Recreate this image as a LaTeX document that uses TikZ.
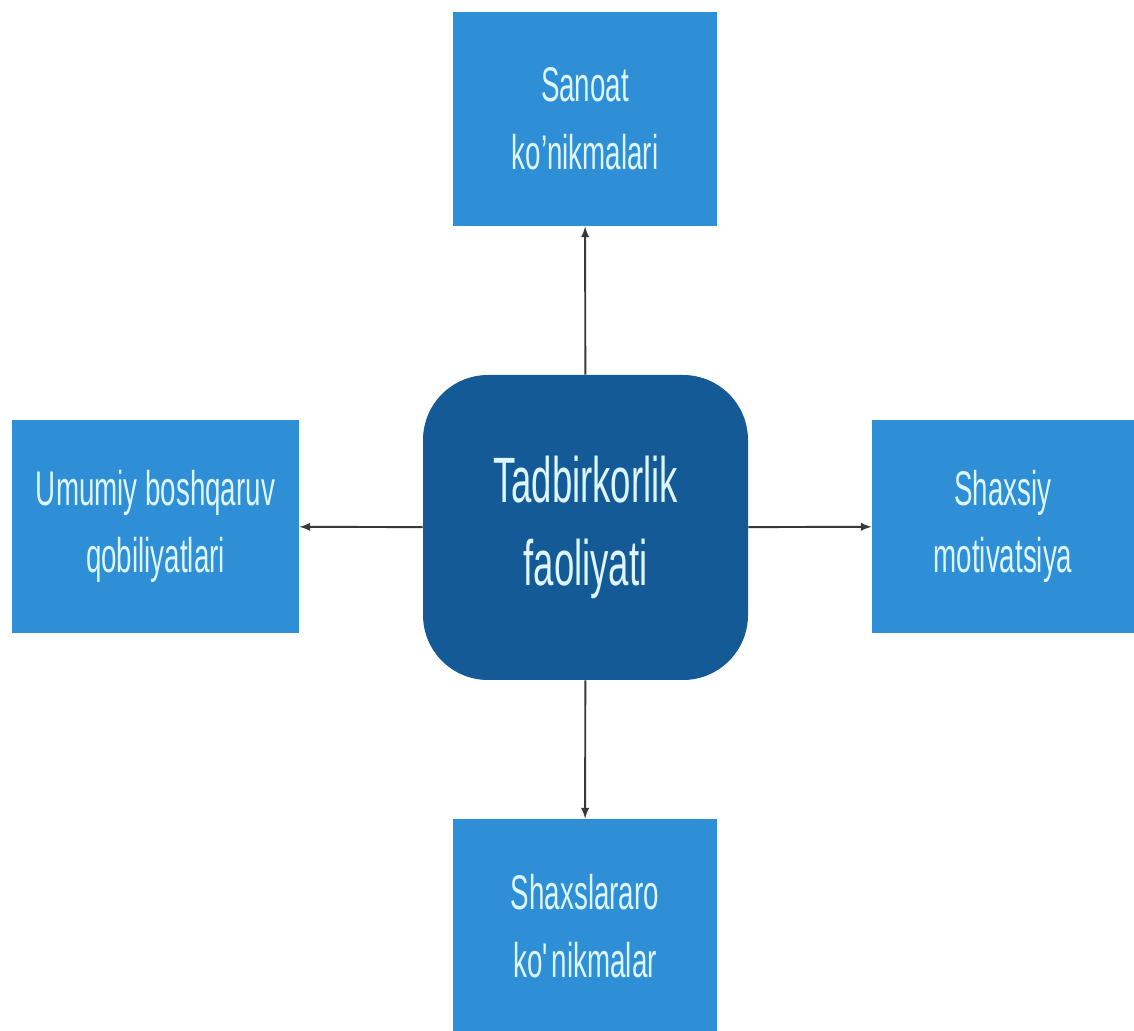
\documentclass[tikz,border=0pt]{standalone}
\usepackage{fontspec}
\setmainfont{Liberation Sans}[FakeStretch=0.57]
\usetikzlibrary{arrows}
\definecolor{boxblue}{HTML}{2E8ED6}
\definecolor{coreblue}{HTML}{145A96}
\definecolor{labelwhite}{HTML}{DDF6FF}
\definecolor{linegray}{HTML}{383838}
\begin{document}
\begin{tikzpicture}
\tikzstyle{every node}=[inner sep=0pt, align=center, text=labelwhite]
\tikzstyle{skill}=[rectangle, fill=boxblue, font=\fontsize{27.7}{38.5}\selectfont]
\tikzstyle{core}=[rectangle, rounded corners=1.3cm, fill=coreblue, font=\fontsize{36.5}{47}\selectfont]
\tikzstyle{link}=[-latex, line width=1.1pt, draw=linegray]
\useasboundingbox (0,0) rectangle (22.68,20.6);
\draw (11.71,10.05) node (act) [core, minimum width=6.5cm, minimum height=6.1cm] {Tadbirkorlik\\faoliyati};
\draw (11.7,18.22) node (ind) [skill, minimum width=5.28cm, minimum height=4.28cm] {Sanoat\\ko’nikmalari};
\draw (11.7,2.08) node (inter) [skill, minimum width=5.28cm, minimum height=4.28cm] {Shaxslararo\\ko\textquotesingle nikmalar};
\draw (3.11,10.07) node (mgmt) [skill, minimum width=5.74cm, minimum height=4.26cm] {Umumiy boshqaruv\\qobiliyatlari};
\draw (20.06,10.07) node (motiv) [skill, minimum width=5.24cm, minimum height=4.26cm] {Shaxsiy\\motivatsiya};
\draw [link] (act) -- (ind);
\draw [link] (act) -- (inter);
\draw [link] (act) -- (mgmt);
\draw [link] (act) -- (motiv);
\end{tikzpicture}
\end{document}
